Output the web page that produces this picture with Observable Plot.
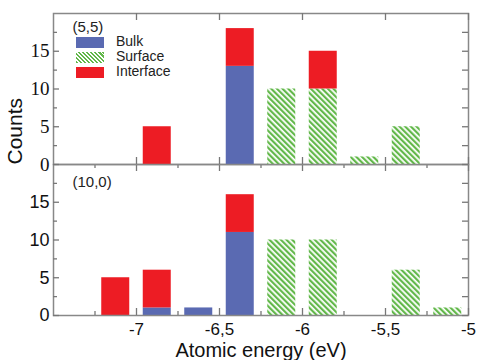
<!DOCTYPE html>
<html><head><meta charset="utf-8">
<script src="https://cdn.jsdelivr.net/npm/d3@7"></script>
<script src="https://cdn.jsdelivr.net/npm/@observablehq/plot@0.6"></script>
<style>
html,body{margin:0;padding:0;background:#fff;}
#wrap{position:relative;width:478px;height:360px;overflow:hidden;font-family:"Liberation Sans",Arial,sans-serif;}
#wrap svg{position:absolute;left:0;top:0;background:transparent;}
#legend{position:absolute;left:76px;top:35px;font-size:14px;color:#222;}
.row{position:relative;height:15px;}
.sw{position:absolute;left:0;top:2px;width:28px;height:11px;}
.lt{position:absolute;left:40px;top:-1px;white-space:nowrap;line-height:15px;}
</style></head><body>
<div id="wrap">
<svg width="0" height="0" style="position:absolute">
<defs>
<pattern id="hatch" patternUnits="userSpaceOnUse" width="4" height="4" patternTransform="rotate(-45)">
<rect width="4" height="4" fill="#ffffff"/>
<rect width="2.2" height="4" fill="#62b84a"/>
</pattern>
</defs>
</svg>
</div>
<script>
// ---- data ----
const binStarts = [-7.25, -7, -6.75, -6.5, -6.25, -6, -5.75, -5.5, -5.25];
const binWidth = 0.25;
const types = ["Bulk", "Surface", "Interface"];
const typeColors = ["#5a6ab2", "url(#hatch)", "#ed1c24"];
// panel (5,5)
const bulk55      = [0, 0, 0, 13, 0, 0, 0, 0, 0];
const surface55   = [0, 0, 0, 0, 10, 10, 1, 5, 0];
const interface55 = [0, 5, 0, 5, 0, 5, 0, 0, 0];
// panel (10,0)
const bulk100      = [0, 1, 1, 11, 0, 0, 0, 0, 0];
const surface100   = [0, 0, 0, 0, 10, 10, 0, 6, 1];
const interface100 = [5, 5, 0, 5, 0, 0, 0, 0, 0];
const panelLabels = ["(5,5)", "(10,0)"];
const xMajor = [-7, -6.5, -6, -5.5, -5];
const xTickLabels = ["-7", "-6,5", "-6", "-5,5", "-5"];
const xMinor = [-7.25, -6.75, -6.25, -5.75, -5.25];
const yMajor = [0, 5, 10, 15];
const yMinor = [2.5, 7.5, 12.5, 17.5];
const xDomain = [-7.5, -5];
const yDomain = [0, 20];
const xLabel = "Atomic energy (eV)";
const yLabel = "Counts";

function tidy(b, s, it) {
  const rows = [];
  binStarts.forEach((x0, k) => {
    [[types[0], b[k]], [types[1], s[k]], [types[2], it[k]]].forEach(([t, c]) => {
      if (c > 0) rows.push({x1: x0, x2: x0 + binWidth, type: t, count: c});
    });
  });
  return rows;
}

const W = 478, Hsvg = 360, ML = 53, MR = 10;
const FW = W - ML - MR;
const tickColor = "#777";

function panel({data, top, bottom, label, labelDy, serif, topTicks, bottomMinor, extra}) {
  const FH = Hsvg - top - bottom;
  const fontFam = serif ? "Liberation Serif, Times New Roman, serif" : "Liberation Sans, Arial, sans-serif";
  const marks = [
    Plot.rectY(data, {x1: "x1", x2: "x2", y: "count", fill: "type", order: types, insetLeft: 6.75, insetRight: 6.75}),
    Plot.frame({stroke: "#888", strokeWidth: 1.5}),
    // top edge ticks
    Plot.tickX(xMajor, {x: d => d, insetBottom: FH - 7, stroke: tickColor, strokeWidth: 1.3}),
    topTicks ? Plot.tickX(xMinor, {x: d => d, insetBottom: FH - 4, stroke: tickColor, strokeWidth: 1.3}) : null,
    // bottom edge ticks
    Plot.tickX(xMajor, {x: d => d, insetTop: FH - 7, stroke: tickColor, strokeWidth: 1.3}),
    bottomMinor ? Plot.tickX(xMinor, {x: d => d, insetTop: FH - 4, stroke: tickColor, strokeWidth: 1.3}) : null,
    // left ticks
    Plot.tickY(yMajor, {y: d => d, insetRight: FW - 6, stroke: tickColor, strokeWidth: 1.3}),
    Plot.tickY(yMinor, {y: d => d, insetRight: FW - 4, stroke: tickColor, strokeWidth: 1.3}),
    // right ticks
    Plot.tickY(yMajor.concat(yMinor), {y: d => d, insetLeft: FW - 6, stroke: tickColor, strokeWidth: 1.3}),
    // y tick labels
    Plot.text(yMajor, {y: d => d, text: d => String(d), frameAnchor: "left", textAnchor: "end", dx: -4,
      fontSize: serif ? 19 : 18, fontFamily: fontFam, fill: "#111"}),
    // panel label
    Plot.text([label], {text: d => d, frameAnchor: "top-left", textAnchor: "start", lineAnchor: "top",
      dx: 19, dy: labelDy, fontSize: 15, fill: "#222"}),
    ...(extra || [])
  ].filter(Boolean);
  return Plot.plot({
    width: W, height: Hsvg,
    marginLeft: ML, marginRight: MR, marginTop: top, marginBottom: bottom,
    x: {domain: xDomain, axis: null},
    y: {domain: yDomain, axis: null},
    color: {domain: types, range: typeColors, legend: false},
    style: {fontFamily: "Liberation Sans, Arial, sans-serif", background: "transparent", overflow: "visible"},
    marks
  });
}

const topPlot = panel({
  data: tidy(bulk55, surface55, interface55),
  top: 13, bottom: Hsvg - 164, label: panelLabels[0], labelDy: 8, serif: true,
  topTicks: false, bottomMinor: false,
  extra: [
    Plot.text([yLabel], {text: d => d, frameAnchor: "bottom-left", rotate: -90, dx: -32, dy: 0,
      fontSize: 21, fill: "#111"})
  ]
});

const bottomPlot = panel({
  data: tidy(bulk100, surface100, interface100),
  top: 164, bottom: 45, label: panelLabels[1], labelDy: 12, serif: false,
  topTicks: true, bottomMinor: true,
  extra: [
    Plot.text(xMajor, {x: d => d, text: (d, i) => xTickLabels[i], frameAnchor: "bottom", lineAnchor: "top",
      dy: 7, fontSize: 17, fill: "#111"}),
    Plot.text([xLabel], {text: d => d, frameAnchor: "bottom", lineAnchor: "top", dy: 27, fontSize: 20, fill: "#111"})
  ]
});

const wrap = document.getElementById("wrap");
wrap.appendChild(bottomPlot);
wrap.appendChild(topPlot);

// legend
const legend = document.createElement("div");
legend.id = "legend";
const swStyles = [
  "background:#5a6ab2;",
  "background:repeating-linear-gradient(45deg,#62b84a 0 1.6px,#fff 1.6px 2.9px);",
  "background:#ed1c24;"
];
types.forEach((t, i) => {
  const r = document.createElement("div");
  r.className = "row";
  r.innerHTML = `<div class="sw" style="${swStyles[i]}"></div><div class="lt">${t}</div>`;
  legend.appendChild(r);
});
wrap.appendChild(legend);
</script>
</body></html>
